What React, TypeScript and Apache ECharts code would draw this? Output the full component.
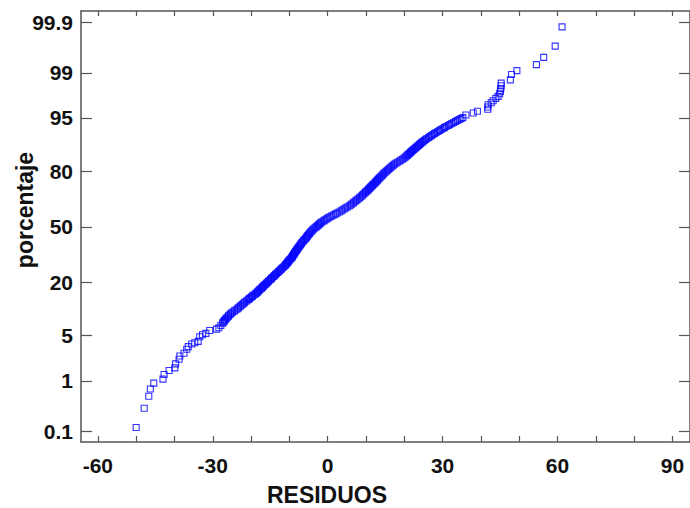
import React, { useEffect, useRef } from "react";
import * as echarts from "echarts";

// Residuals (x) and their normal scores (y, standard-normal units), one line per stretch of the curve
const residuos: number[] = [
  -50.0, -47.9, -46.7, -46.3, -45.4, -43.0, -42.7, -41.4, -39.9, -39.7, -38.8, -38.6, -37.5, -36.8, -36.4, -35.5, -34.7, -33.8, -33.4, -32.7, -31.8, -30.8, -29.0, -28.4, -27.9, -27.4,
  -27.3, -27.0, -26.9, -26.6, -26.5, -26.2, -25.9, -25.8, -25.4, -25.2,
  -24.9, -24.4, -24.2, -23.7, -23.4,
  -23.2, -22.8, -22.6, -22.2, -21.9, -21.7, -21.3, -21.0,
  -20.6, -20.4, -20.0, -19.7, -19.5, -19.0, -18.7, -18.4,
  -18.2, -17.9, -17.7, -17.3, -17.1, -16.8, -16.6, -16.3, -16.0, -15.8,
  -15.5, -15.3, -14.9, -14.7, -14.5, -14.1, -13.9,
  -13.6, -13.4, -13.0, -12.8, -12.5, -12.2, -12.0, -11.7, -11.4,
  -11.1, -11.0, -10.7, -10.5, -10.3, -10.1, -9.9, -9.6, -9.4, -9.2,
  -9.1, -8.9, -8.7, -8.6, -8.4, -8.2, -8.0, -7.9, -7.7, -7.5, -7.3, -7.1,
  -6.9, -6.8, -6.5, -6.3, -6.1, -5.8, -5.6, -5.4, -5.3, -5.0, -4.8, -4.6, -4.4, -4.1,
  -3.9, -3.6, -3.3, -3.0, -2.7, -2.4, -2.1, -1.8, -1.5,
  -1.0, -0.7, -0.2, 0.1, 0.6,
  1.1, 1.6, 2.1, 2.5, 3.0,
  3.5, 3.8, 4.3, 4.7, 5.1, 5.6, 6.0,
  6.3, 6.7, 6.9, 7.3, 7.6, 7.9, 8.3, 8.5,
  8.9, 9.1, 9.4, 9.7, 9.9, 10.2, 10.5, 10.7, 11.0, 11.2,
  11.5, 11.7, 12.0, 12.3, 12.5, 12.8, 13.0, 13.2, 13.5, 13.7, 14.0, 14.2, 14.5, 14.7,
  15.0, 15.3, 15.6, 15.9, 16.2, 16.5, 16.8, 17.1, 17.4,
  17.8, 18.2, 18.7, 19.1, 19.5, 19.9,
  20.2, 20.5, 20.8, 21.0, 21.4, 21.6, 21.9, 22.2, 22.5,
  22.8, 23.1, 23.4, 23.7, 24.0, 24.3, 24.6, 24.9, 25.2,
  25.6, 25.9, 26.4, 26.7, 27.1, 27.5,
  27.9, 28.3, 28.8, 29.2, 29.6, 30.1, 30.5,
  30.9, 31.5, 31.9, 32.4, 32.9,
  33.4, 33.8, 34.3, 34.8, 35.3,
  36.1, 38.0, 39.1, 41.8, 41.8, 41.9, 42.7, 43.2, 43.9, 44.5, 44.9, 45.1, 45.2, 45.3, 45.3, 47.7, 48.0, 49.4, 54.5, 56.4, 59.4, 61.2,
];

const puntuacionNormal: number[] = [
  -3.03, -2.74, -2.56, -2.45, -2.36, -2.3, -2.23, -2.17, -2.13, -2.07, -2.0, -1.95, -1.91, -1.85, -1.81, -1.77, -1.75, -1.73, -1.66, -1.63, -1.61, -1.565, -1.545, -1.525, -1.49, -1.455,
  -1.44, -1.425, -1.41, -1.395, -1.38, -1.365, -1.35, -1.335, -1.32, -1.305,
  -1.29, -1.275, -1.26, -1.245, -1.23,
  -1.215, -1.2, -1.185, -1.17, -1.155, -1.14, -1.125, -1.11,
  -1.095, -1.08, -1.065, -1.05, -1.035, -1.02, -1.005, -0.99,
  -0.975, -0.96, -0.945, -0.93, -0.915, -0.9, -0.885, -0.87, -0.855, -0.84,
  -0.825, -0.81, -0.795, -0.78, -0.765, -0.75, -0.735,
  -0.72, -0.705, -0.69, -0.675, -0.66, -0.645, -0.63, -0.615, -0.6,
  -0.585, -0.57, -0.555, -0.54, -0.525, -0.51, -0.495, -0.48, -0.465, -0.45,
  -0.435, -0.42, -0.405, -0.39, -0.375, -0.36, -0.345, -0.33, -0.315, -0.3, -0.285, -0.27,
  -0.255, -0.24, -0.225, -0.21, -0.195, -0.18, -0.165, -0.15, -0.135, -0.12, -0.105, -0.09, -0.075, -0.06,
  -0.045, -0.03, -0.015, 0.0, 0.015, 0.03, 0.045, 0.06, 0.075,
  0.09, 0.105, 0.12, 0.135, 0.15,
  0.165, 0.18, 0.195, 0.21, 0.225,
  0.24, 0.255, 0.27, 0.285, 0.3, 0.315, 0.33,
  0.345, 0.36, 0.375, 0.39, 0.405, 0.42, 0.435, 0.45,
  0.465, 0.48, 0.495, 0.51, 0.525, 0.54, 0.555, 0.57, 0.585, 0.6,
  0.615, 0.63, 0.645, 0.66, 0.675, 0.69, 0.705, 0.72, 0.735, 0.75, 0.765, 0.78, 0.795, 0.81,
  0.825, 0.84, 0.855, 0.87, 0.885, 0.9, 0.915, 0.93, 0.945,
  0.96, 0.975, 0.99, 1.005, 1.02, 1.035,
  1.05, 1.065, 1.08, 1.095, 1.11, 1.125, 1.14, 1.155, 1.17,
  1.185, 1.2, 1.215, 1.23, 1.245, 1.26, 1.275, 1.29, 1.305,
  1.32, 1.335, 1.35, 1.365, 1.38, 1.395,
  1.41, 1.425, 1.44, 1.455, 1.47, 1.485, 1.5,
  1.515, 1.53, 1.545, 1.56, 1.575,
  1.59, 1.605, 1.62, 1.635, 1.65,
  1.69, 1.72, 1.745, 1.775, 1.81, 1.845, 1.875, 1.905, 1.94, 1.97, 2.01, 2.05, 2.09, 2.13, 2.17, 2.22, 2.3, 2.36, 2.45, 2.56, 2.73, 3.02,
];

const xTicks: number[] = [-60, -50, -40, -30, -20, -10, 0, 10, 20, 30, 40, 50, 60, 70, 80, 90];
const xLabels: number[] = [-60, -30, 0, 30, 60, 90];
const yTickPercent: number[] = [0.1, 1, 5, 20, 50, 80, 95, 99, 99.9];
const yTickText: string[] = ["0.1", "1", "5", "20", "50", "80", "95", "99", "99.9"];

// inverse standard normal CDF (Acklam) – maps the percentage scale onto normal-score units
function invNorm(p: number): number {
  const a = [-39.69683028665376, 220.9460984245205, -275.9285104469687, 138.357751867269, -30.66479806614716, 2.506628277459239];
  const b = [-54.47609879822406, 161.5858368580409, -155.6989798598866, 66.80131188771972, -13.28068155288572];
  const c = [-0.007784894002430293, -0.3223964580411365, -2.400758277161838, -2.549732539343734, 4.374664141464968, 2.938163982698783];
  const d = [0.007784695709041462, 0.3224671290700398, 2.445134137142996, 3.754408661907416];
  const pl = 0.02425;
  let q: number, r: number;
  if (p < pl) {
    q = Math.sqrt(-2 * Math.log(p));
    return (((((c[0] * q + c[1]) * q + c[2]) * q + c[3]) * q + c[4]) * q + c[5]) / ((((d[0] * q + d[1]) * q + d[2]) * q + d[3]) * q + 1);
  } else if (p <= 1 - pl) {
    q = p - 0.5;
    r = q * q;
    return ((((((a[0] * r + a[1]) * r + a[2]) * r + a[3]) * r + a[4]) * r + a[5]) * q) / (((((b[0] * r + b[1]) * r + b[2]) * r + b[3]) * r + b[4]) * r + 1);
  } else {
    q = Math.sqrt(-2 * Math.log(1 - p));
    return -(((((c[0] * q + c[1]) * q + c[2]) * q + c[3]) * q + c[4]) * q + c[5]) / ((((d[0] * q + d[1]) * q + d[2]) * q + d[3]) * q + 1);
  }
}

const yTickZ = yTickPercent.map((p) => invNorm(p / 100));

export default function App() {
  const ref = useRef<HTMLDivElement>(null);
  useEffect(() => {
    if (!ref.current) return;
    const chart = echarts.init(ref.current, null, { renderer: "svg" });
    const font = "'Liberation Sans', Arial, sans-serif";
    const axisColor = "#555";
    const yLabel = (v: number) => {
      let best = 0;
      for (let i = 1; i < yTickZ.length; i++) if (Math.abs(yTickZ[i] - v) < Math.abs(yTickZ[best] - v)) best = i;
      return yTickText[best];
    };
    const xMin = -64.4, xMax = 94.6, yMin = -3.25, yMax = 3.26;
    chart.setOption({
      animation: false,
      backgroundColor: "#fff",
      grid: { left: 81, top: 11, width: 610, height: 431, containLabel: false },
      xAxis: [
        {
          type: "value", position: "bottom", min: xMin, max: xMax,
          axisLine: { show: true, onZero: false, lineStyle: { color: axisColor, width: 1.5 } },
          axisTick: { show: true, inside: true, length: 6, customValues: xTicks, lineStyle: { color: axisColor, width: 1.2 } },
          axisLabel: { show: true, customValues: xLabels, margin: 13, color: "#111", fontSize: 21, fontWeight: "bold", fontFamily: font },
          splitLine: { show: false },
        },
        {
          type: "value", position: "top", min: xMin, max: xMax,
          axisLine: { show: true, onZero: false, lineStyle: { color: axisColor, width: 1.5 } },
          axisTick: { show: true, inside: true, length: 5, customValues: xTicks, lineStyle: { color: axisColor, width: 1.2 } },
          axisLabel: { show: false },
          splitLine: { show: false },
        },
      ],
      yAxis: [
        {
          type: "value", position: "left", min: yMin, max: yMax,
          axisLine: { show: true, onZero: false, lineStyle: { color: axisColor, width: 1.5 } },
          axisTick: { show: true, inside: true, length: 11, customValues: yTickZ, lineStyle: { color: axisColor, width: 1.2 } },
          axisLabel: { show: true, customValues: yTickZ, formatter: yLabel, margin: 8, color: "#111", fontSize: 21, fontWeight: "bold", fontFamily: font },
          splitLine: { show: false },
        },
        {
          type: "value", position: "right", min: yMin, max: yMax,
          axisLine: { show: true, onZero: false, lineStyle: { color: axisColor, width: 1.5 } },
          axisTick: { show: true, inside: true, length: 11, customValues: yTickZ, lineStyle: { color: axisColor, width: 1.2 } },
          axisLabel: { show: false },
          splitLine: { show: false },
        },
      ],
      graphic: [
        {
          type: "text", x: 327, y: 495,
          style: { text: "RESIDUOS", fill: "#111", font: `bold 23px ${font}`, textAlign: "center", textVerticalAlign: "middle" },
        },
        {
          type: "text", x: 25, y: 210, rotation: Math.PI / 2,
          style: { text: "porcentaje", fill: "#111", font: `bold 23px ${font}`, textAlign: "center", textVerticalAlign: "middle" },
        },
      ],
      series: [
        {
          type: "scatter",
          xAxisIndex: 0, yAxisIndex: 0,
          symbol: "rect",
          symbolSize: [6, 6],
          itemStyle: { color: "rgba(255,255,255,0)", borderColor: "#0000ff", borderWidth: 1.1 },
          data: residuos.map((r, i) => [r, puntuacionNormal[i]]),
        },
      ],
    });
    return () => chart.dispose();
  }, []);
  return <div ref={ref} style={{ position: "fixed", left: 0, top: 0, width: 690, height: 508 }} />;
}
